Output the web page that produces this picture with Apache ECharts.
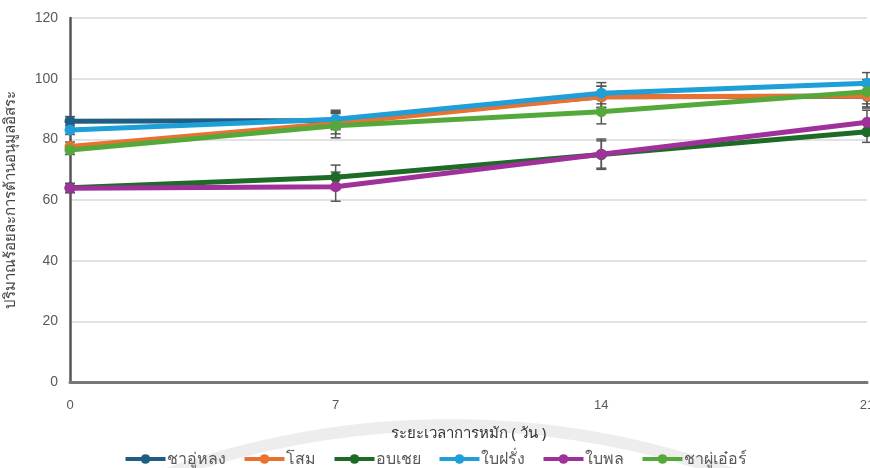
<!DOCTYPE html>
<html><head><meta charset="utf-8">
<script src="https://cdn.jsdelivr.net/npm/echarts@6/dist/echarts.min.js"></script>
<style>html,body{margin:0;padding:0;background:#fff}#c{width:870px;height:468px}</style>
</head><body><div id="c"></div>
<script>
const days = [0, 7, 14, 21];
const seriesNames = ['ชาอู่หลง', 'โสม', 'อบเชย', 'ใบฝรั่ง', 'ใบพล', 'ชาผู่เอ๋อร์'];
const oolong = [86.0, 86.2, 94.0, 94.2];
const ginseng = [77.6, 85.3, 94.0, 94.3];
const cinnamon = [64.0, 67.5, 75.0, 82.5];
const guava = [83.1, 86.6, 95.2, 98.5];
const betel = [63.9, 64.4, 75.1, 85.6];
const puer = [76.5, 84.5, 89.1, 95.7];
const errOolong = [1.5, 3.0, 3.5, 3.5];
const errGinseng = [1.5, 3.5, 3.5, 4.0];
const errCinnamon = [1.5, 4.0, 4.5, 3.5];
const errGuava = [1.5, 3.0, 3.5, 3.5];
const errBetel = [1.5, 4.8, 5.0, 4.0];
const errPuer = [1.5, 4.0, 4.0, 4.0];
const colors = ['#1F5E82', '#E97232', '#1D6B27', '#1E9FD8', '#A0309A', '#55A93A'];

const values = [oolong, ginseng, cinnamon, guava, betel, puer];
const errs = [errOolong, errGinseng, errCinnamon, errGuava, errBetel, errPuer];

const chart = echarts.init(document.getElementById('c'));
const series = [];
values.forEach((v, i) => {
  series.push({
    name: seriesNames[i], type: 'line', data: days.map((d, j) => [d, v[j]]),
    symbol: 'circle', symbolSize: 11, z: 3 + i,
    lineStyle: { width: 5, color: colors[i] },
    itemStyle: { color: colors[i] }
  });
});
values.forEach((v, i) => {
  series.push({
    type: 'custom', name: seriesNames[i] + '_err', z: 2,
    data: days.map((d, j) => [d, v[j] - errs[i][j], v[j] + errs[i][j]]),
    renderItem: function (params, api) {
      const lo = api.coord([api.value(0), api.value(1)]);
      const hi = api.coord([api.value(0), api.value(2)]);
      const w = 5;
      const st = { stroke: '#555', lineWidth: 1.5 };
      return { type: 'group', children: [
        { type: 'line', shape: { x1: lo[0], y1: lo[1], x2: hi[0], y2: hi[1] }, style: st },
        { type: 'line', shape: { x1: lo[0] - w, y1: lo[1], x2: lo[0] + w, y2: lo[1] }, style: st },
        { type: 'line', shape: { x1: hi[0] - w, y1: hi[1], x2: hi[0] + w, y2: hi[1] }, style: st }
      ]};
    },
    silent: true
  });
});

chart.setOption({
  animation: false,
  color: colors,
  graphic: [{
    type: 'arc', z: -10, silent: true,
    shape: { cx: 450, cy: 1265, r: 840, startAngle: Math.PI * 1.3, endAngle: Math.PI * 1.7 },
    style: { stroke: 'rgba(0,0,0,0.07)', lineWidth: 12, fill: 'none' }
  }],
  grid: { left: 70, right: 3, top: 18, bottom: 86, outerBoundsMode: 'none', containLabel: false },
  xAxis: {
    type: 'value', min: 0, max: 21, interval: 7,
    name: 'ระยะเวลาการหมัก ( วัน )', nameLocation: 'middle', nameGap: 44,
    nameTextStyle: { color: '#333', fontSize: 15, fontFamily: 'Noto Sans' },
    axisLine: { show: true, onZero: false, lineStyle: { color: '#777', width: 3 } },
    axisTick: { show: false },
    splitLine: { show: false },
    axisLabel: { color: '#595959', fontSize: 13, margin: 17, fontFamily: 'Liberation Sans', showMaxLabel: true },
  },
  yAxis: {
    type: 'value', min: 0, max: 120, interval: 20,
    name: 'ปริมาณร้อยละการต้านอนุมูลอิสระ', nameLocation: 'middle', nameGap: 52,
    nameTextStyle: { color: '#444', fontSize: 15, fontFamily: 'Noto Sans' },
    axisLine: { show: true, lineStyle: { color: '#555', width: 2.5 } },
    axisTick: { show: false },
    splitLine: { lineStyle: { color: '#d9d9d9', width: 1.5 } },
    axisLabel: { color: '#595959', fontSize: 14, margin: 12, fontFamily: 'Liberation Sans' }
  },
  legend: {
    data: seriesNames, bottom: -4, left: 'center', itemGap: 17,
    itemWidth: 40, itemHeight: 12,
    lineStyle: { width: 4 },
    textStyle: { color: '#595959', fontSize: 16, fontFamily: 'Noto Sans', padding: [0, 0, 0, -4] }
  },
  series: series
});
</script></body></html>
